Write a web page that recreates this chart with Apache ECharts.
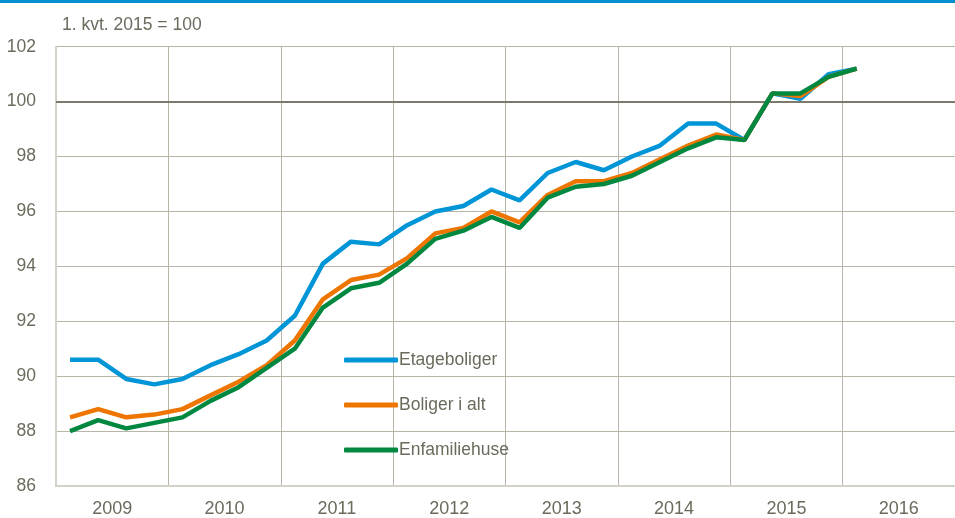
<!DOCTYPE html>
<html>
<head>
    <meta charset="UTF-8">
    <script src="https://cdn.jsdelivr.net/npm/echarts@6/dist/echarts.min.js"></script>
    <style>
        html, body { margin: 0; padding: 0; background: #fff; }
        #container { width: 955px; height: 518px; }
    </style>
</head>
<body>
<div id="container"></div>
<script type="text/javascript">
    // kvartaler 2009K1 - 2016K4
    var quarters = [];
    var years = ['2009', '2010', '2011', '2012', '2013', '2014', '2015', '2016'];
    years.forEach(function (y) {
        for (var k = 1; k <= 4; k++) quarters.push(y + 'K' + k);
    });

    var etageboliger = [90.6, 90.6, 89.9, 89.7, 89.9, 90.4, 90.8, 91.3, 92.2, 94.1, 94.9, 94.8,
        95.5, 96.0, 96.2, 96.8, 96.4, 97.4, 97.8, 97.5, 98.0, 98.4, 99.2, 99.2,
        98.6, 100.3, 100.1, 101.0, 101.2];
    var boligerIAlt = [88.5, 88.8, 88.5, 88.6, 88.8, 89.3, 89.8, 90.4, 91.3, 92.8, 93.5, 93.7,
        94.3, 95.2, 95.4, 96.0, 95.6, 96.6, 97.1, 97.1, 97.4, 97.9, 98.4, 98.8,
        98.6, 100.3, 100.2, 100.9, 101.2];
    var enfamiliehuse = [88.0, 88.4, 88.1, 88.3, 88.5, 89.1, 89.6, 90.3, 91.0, 92.5, 93.2, 93.4,
        94.1, 95.0, 95.3, 95.8, 95.4, 96.5, 96.9, 97.0, 97.3, 97.8, 98.3, 98.7,
        98.6, 100.3, 100.3, 100.9, 101.2];

    var textColor = '#6b6a5c';
    var gridColor = '#b8b5a8';
    var font = '"Liberation Sans", Arial, sans-serif';

    var dom = document.getElementById('container');
    var myChart = echarts.init(dom, null, { renderer: 'canvas' });

    var option = {
        animation: false,
        textStyle: { fontFamily: font },
        graphic: [
            { type: 'rect', left: 0, top: 0, shape: { width: 955, height: 3 }, style: { fill: '#0090d0' } },
            { type: 'text', left: 62, top: 16, style: { text: '1. kvt. 2015 = 100', fill: textColor, font: '17.5px ' + font } }
        ],
        legend: {
            orient: 'vertical',
            left: 339,
            top: 345,
            itemWidth: 54,
            itemHeight: 5,
            itemGap: 25,
            icon: 'roundRect',
            textStyle: { color: textColor, fontSize: 17.5, lineHeight: 20, fontFamily: font, padding: [0, 0, 0, -4] },
            data: ['Etageboliger', 'Boliger i alt', 'Enfamiliehuse']
        },
        grid: { left: 56, right: -10, top: 46.7, bottom: 30 },
        xAxis: [
            {
                type: 'category',
                data: quarters,
                boundaryGap: true,
                axisLine: { show: true, lineStyle: { color: '#d3d1c8', width: 2 } },
                axisTick: { show: false },
                axisLabel: { show: false },
                splitLine: {
                    show: true,
                    interval: function (idx) { return idx % 4 === 0; },
                    lineStyle: { color: gridColor, width: 1 }
                }
            },
            {
                type: 'category',
                data: years,
                position: 'bottom',
                boundaryGap: true,
                axisLine: { show: false },
                axisTick: { show: false },
                splitLine: { show: false },
                axisLabel: { color: textColor, fontSize: 18, fontFamily: font, margin: 14 }
            }
        ],
        yAxis: {
            type: 'value',
            min: 86,
            max: 102,
            interval: 2,
            axisLine: { show: true, lineStyle: { color: '#d3d1c8', width: 2 } },
            axisTick: { show: false },
            axisLabel: { color: textColor, fontSize: 17.5, fontFamily: font, margin: 20 },
            splitLine: { show: true, lineStyle: { color: gridColor, width: 1 } }
        },
        series: [
            {
                name: 'ref',
                type: 'line',
                data: [],
                z: 1,
                silent: true,
                markLine: {
                    silent: true,
                    symbol: 'none',
                    label: { show: false },
                    lineStyle: { color: '#7d7a6b', width: 2, type: 'solid' },
                    data: [{ yAxis: 100 }]
                }
            },
            {
                name: 'Etageboliger',
                type: 'line',
                data: etageboliger,
                symbol: 'none',
                z: 3,
                lineStyle: { color: '#0095d6', width: 4.5 },
                itemStyle: { color: '#0095d6' }
            },
            {
                name: 'Boliger i alt',
                type: 'line',
                data: boligerIAlt,
                symbol: 'none',
                z: 4,
                lineStyle: { color: '#ee7500', width: 4.5 },
                itemStyle: { color: '#ee7500' }
            },
            {
                name: 'Enfamiliehuse',
                type: 'line',
                data: enfamiliehuse,
                symbol: 'none',
                z: 5,
                lineStyle: { color: '#008740', width: 4.5 },
                itemStyle: { color: '#008740' }
            }
        ]
    };

    myChart.setOption(option);
    window.addEventListener('resize', myChart.resize);
</script>
</body>
</html>
